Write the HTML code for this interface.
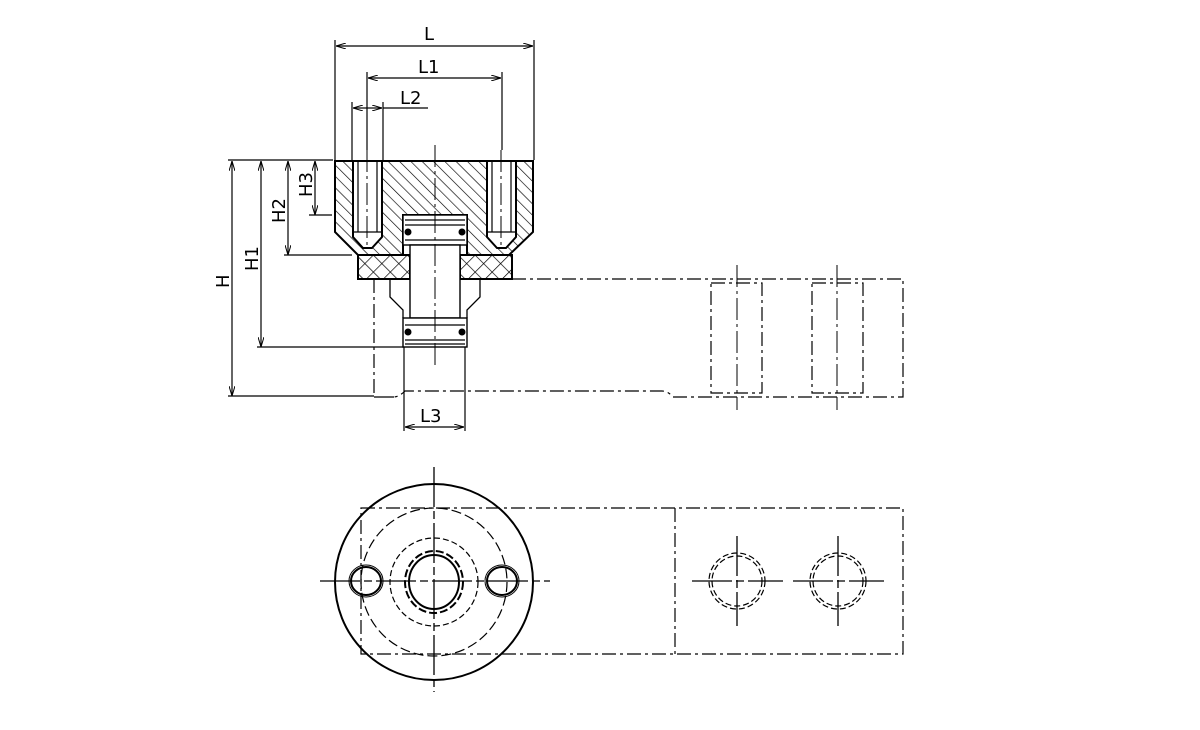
<!DOCTYPE html>
<html><head><meta charset="utf-8"><style>
html,body{margin:0;padding:0;background:#fff;}
svg{display:block;}
text{font-family:"DejaVu Sans","Liberation Sans",sans-serif;font-size:18px;fill:#000;}
</style></head><body>
<svg width="1200" height="730" viewBox="0 0 1200 730" xmlns="http://www.w3.org/2000/svg">
<defs>
<pattern id="h" width="8" height="8" patternUnits="userSpaceOnUse" patternTransform="rotate(-45)">
<line x1="0" y1="0" x2="0" y2="8" stroke="#000" stroke-width="1.3"/>
</pattern>
<pattern id="x" width="12" height="12" patternUnits="userSpaceOnUse" patternTransform="rotate(45)">
<line x1="0" y1="0" x2="0" y2="12" stroke="#000" stroke-width="1.4"/>
<line x1="0" y1="0" x2="12" y2="0" stroke="#000" stroke-width="1.4"/>
</pattern>
<marker id="a" viewBox="0 0 10 6" refX="10" refY="3" markerWidth="10" markerHeight="6" orient="auto-start-reverse" markerUnits="userSpaceOnUse">
<path d="M0,0 L10,3 L0,6" fill="none" stroke="#000" stroke-width="1"/>
</marker>
</defs>
<g fill="none" stroke="#000" stroke-width="1.2">
<line x1="335" y1="40" x2="335" y2="160"/>
<line x1="534" y1="40" x2="534" y2="160"/>
<line x1="336" y1="46" x2="533" y2="46" marker-start="url(#a)" marker-end="url(#a)"/>
<line x1="367" y1="72" x2="367" y2="150"/>
<line x1="502" y1="72" x2="502" y2="150"/>
<line x1="368" y1="78" x2="501" y2="78" marker-start="url(#a)" marker-end="url(#a)"/>
<line x1="352" y1="102" x2="352" y2="160"/>
<line x1="383" y1="102" x2="383" y2="160"/>
<line x1="353" y1="108" x2="367" y2="108" marker-start="url(#a)"/>
<line x1="367" y1="108" x2="382" y2="108" marker-end="url(#a)"/>
<line x1="383" y1="108" x2="428" y2="108"/>
<line x1="228" y1="160" x2="333" y2="160"/>
<line x1="232" y1="161" x2="232" y2="396" marker-start="url(#a)" marker-end="url(#a)"/>
<line x1="228" y1="396" x2="374" y2="396"/>
<line x1="261" y1="161" x2="261" y2="347" marker-start="url(#a)" marker-end="url(#a)"/>
<line x1="257" y1="347" x2="404" y2="347"/>
<line x1="288" y1="161" x2="288" y2="255" marker-start="url(#a)" marker-end="url(#a)"/>
<line x1="284" y1="255" x2="352" y2="255"/>
<line x1="315" y1="161" x2="315" y2="215" marker-start="url(#a)" marker-end="url(#a)"/>
<line x1="309" y1="215" x2="332" y2="215"/>
<line x1="404" y1="347" x2="404" y2="431"/>
<line x1="465" y1="347" x2="465" y2="431"/>
<line x1="405" y1="427" x2="464" y2="427" marker-start="url(#a)" marker-end="url(#a)"/>
</g>
<text x="424" y="40">L</text>
<text x="418" y="73">L1</text>
<text x="400" y="104">L2</text>
<text x="420" y="422">L3</text>
<text transform="translate(229,288) rotate(-90)">H</text>
<text transform="translate(258,271) rotate(-90)">H1</text>
<text transform="translate(285,223) rotate(-90)">H2</text>
<text transform="translate(312,197) rotate(-90)">H3</text>

<path d="M335,161 H533 V232 L509,255 H467 V215 H403 V255 H358 L335,232 Z M353,161 H382 V237 L372,248 H363 L353,237 Z M487,161 H516 V237 L506,248 H497 L487,237 Z" fill="url(#h)" fill-rule="evenodd" stroke="#000" stroke-width="2"/>
<g fill="none" stroke="#000" stroke-width="1.2">
<line x1="358" y1="161" x2="358" y2="232"/><line x1="377" y1="161" x2="377" y2="232"/>
<line x1="353" y1="232" x2="382" y2="232"/>
<line x1="492" y1="161" x2="492" y2="232"/><line x1="511" y1="161" x2="511" y2="232"/>
<line x1="487" y1="232" x2="516" y2="232"/>
</g>
<path d="M358,255 H512 V279 H358 Z M410,255 V279 H460 V255 Z" fill="url(#x)" fill-rule="evenodd" stroke="#000" stroke-width="2"/>
<path d="M390,279 V297 L403,310 V318 M480,279 V297 L467,310 V318" fill="none" stroke="#000" stroke-width="1.3"/>
<g fill="#fff" stroke="#000" stroke-width="1.4">
<rect x="403" y="215" width="64" height="30"/>
<rect x="410" y="245" width="50" height="73"/>
<rect x="403" y="318" width="64" height="29"/>
</g>
<g stroke="#000" stroke-width="1.2" fill="none">
<line x1="405" y1="220" x2="465" y2="220"/>
<line x1="405" y1="225" x2="465" y2="225"/>
<line x1="405" y1="240" x2="465" y2="240"/>
<line x1="405" y1="325" x2="465" y2="325"/>
<line x1="405" y1="340" x2="465" y2="340"/>
<line x1="405" y1="344" x2="465" y2="344"/>
</g>
<g fill="#000"><circle cx="408" cy="232" r="3.5"/><circle cx="462" cy="232" r="3.5"/><circle cx="408" cy="332" r="3.5"/><circle cx="462" cy="332" r="3.5"/></g>
<g stroke="#000" stroke-width="1" stroke-dasharray="22,4,3,4" fill="none">
<line x1="435" y1="145" x2="435" y2="365"/>
<line x1="367" y1="150" x2="367" y2="245"/>
<line x1="501" y1="150" x2="501" y2="245"/>
<line x1="737" y1="265" x2="737" y2="410"/>
<line x1="837" y1="265" x2="837" y2="410"/>
</g>
<g stroke="#000" stroke-width="1.2" stroke-dasharray="14,4,3,4" fill="none">
<path d="M374,279 V397"/>
<path d="M512,279 H903 V397 H673 Q668,391 662,391 H405 Q399,397 393,397"/>
<rect x="711" y="283" width="51" height="110"/>
<rect x="812" y="283" width="51" height="110"/>
</g>
<line x1="374" y1="397" x2="394" y2="397" stroke="#000" stroke-width="1.2"/>

<g fill="none" stroke="#000">
<ellipse cx="434" cy="582" rx="99" ry="98" stroke-width="2"/>
<ellipse cx="434" cy="582" rx="73" ry="74" stroke-width="1.2" stroke-dasharray="10,4"/>
<ellipse cx="434" cy="582" rx="44" ry="44" stroke-width="1.2" stroke-dasharray="6,3"/>
<ellipse cx="434" cy="582" rx="29" ry="31" stroke-width="2" stroke-dasharray="8,3"/>
<ellipse cx="434" cy="582" rx="25" ry="27" stroke-width="2"/>
<ellipse cx="366" cy="581" rx="15" ry="14" stroke-width="2"/>
<ellipse cx="366" cy="581" rx="17" ry="16" stroke-width="1"/>
<ellipse cx="502" cy="581" rx="15" ry="14" stroke-width="2"/>
<ellipse cx="502" cy="581" rx="17" ry="16" stroke-width="1"/>
<circle cx="737" cy="581" r="28" stroke-width="1.2" stroke-dasharray="6,3"/>
<circle cx="737" cy="581" r="25" stroke-width="1.2" stroke-dasharray="6,3"/>
<circle cx="838" cy="581" r="28" stroke-width="1.2" stroke-dasharray="6,3"/>
<circle cx="838" cy="581" r="25" stroke-width="1.2" stroke-dasharray="6,3"/>
<g stroke-width="1.2" stroke-dasharray="14,4,3,4">
<rect x="361" y="508" width="542" height="146"/>
<line x1="675" y1="508" x2="675" y2="654"/>
</g>
<g stroke-width="1.3" stroke-dasharray="40,4,8,4">
<line x1="320" y1="581" x2="550" y2="581"/>
<line x1="434" y1="467" x2="434" y2="692"/>
<line x1="692" y1="581" x2="783" y2="581"/>
<line x1="737" y1="536" x2="737" y2="626"/>
<line x1="793" y1="581" x2="884" y2="581"/>
<line x1="838" y1="536" x2="838" y2="626"/>
</g>
</g>
</svg>
</body></html>
